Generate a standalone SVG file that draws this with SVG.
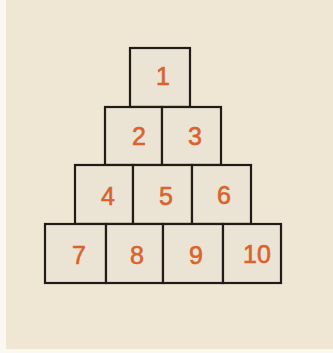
<svg xmlns="http://www.w3.org/2000/svg" width="333" height="353" viewBox="0 0 333 353">
<style>
.box{fill:#ebe3d3;stroke:#221c18;stroke-width:2.2}
.t{font-family:"Liberation Sans",Arial,sans-serif;font-size:25px;fill:#d8632e;stroke:#d8632e;stroke-width:0.6;text-anchor:middle}
</style>
<rect x="0" y="0" width="333" height="353" fill="#fbf8f2"/>
<rect x="6" y="0" width="327" height="349" fill="#efe6d4"/>
<g id="n1"><rect class="box" x="130" y="48" width="60" height="59"/><text class="t" x="163" y="85">1</text></g>
<g id="n2"><rect class="box" x="105" y="107" width="57" height="58"/><text class="t" x="139" y="145">2</text></g>
<g id="n3"><rect class="box" x="162" y="107" width="59" height="58"/><text class="t" x="195" y="145">3</text></g>
<g id="n4"><rect class="box" x="75" y="165" width="58" height="59"/><text class="t" x="108" y="205">4</text></g>
<g id="n5"><rect class="box" x="133" y="165" width="59" height="59"/><text class="t" x="166" y="205">5</text></g>
<g id="n6"><rect class="box" x="192" y="165" width="59" height="59"/><text class="t" x="224" y="204">6</text></g>
<g id="n7"><rect class="box" x="45" y="224" width="61" height="59"/><text class="t" x="79" y="264">7</text></g>
<g id="n8"><rect class="box" x="106" y="224" width="57" height="59"/><text class="t" x="137" y="264">8</text></g>
<g id="n9"><rect class="box" x="163" y="224" width="60" height="59"/><text class="t" x="196" y="264">9</text></g>
<g id="n10"><rect class="box" x="223" y="224" width="58" height="59"/><text class="t" x="257" y="263">10</text></g>
<g id="connectors"></g>
</svg>
